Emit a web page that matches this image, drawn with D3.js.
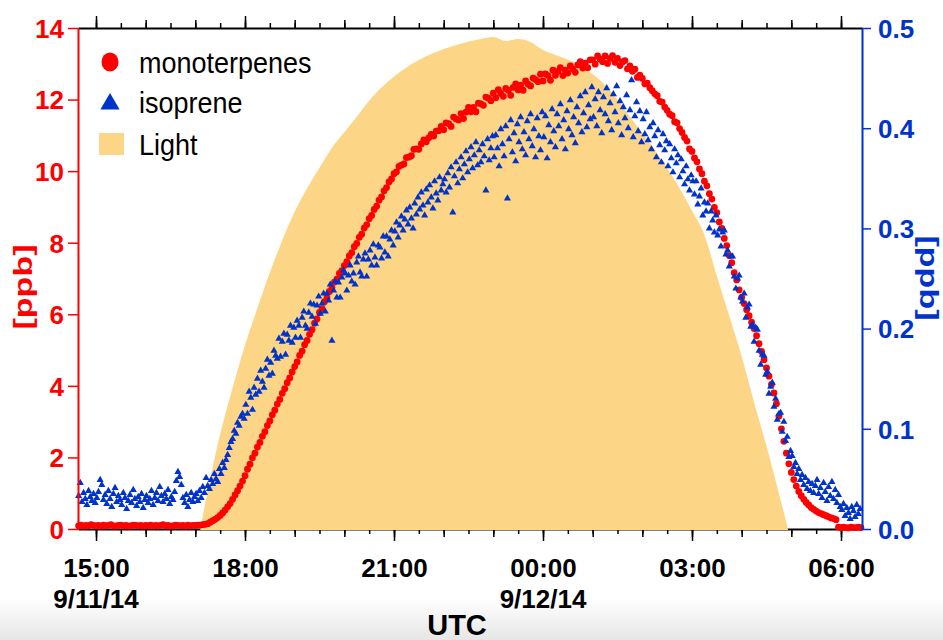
<!DOCTYPE html>
<html>
<head>
<meta charset="utf-8">
<script src="https://cdn.jsdelivr.net/npm/d3@7"></script>
<style>
  html, body { margin: 0; padding: 0; background: #ffffff; }
  svg { display: block; }
</style>
</head>
<body>
<svg id="chart" width="943" height="640"></svg>
<script>
// ---- Monoterpenes: 3-minute samples from 2014-09-11 14:39 UTC, [ppb], left axis ----
const monoStart = "2014-09-11T14:39";
const monoStepMinutes = 3;
const monoterpenes = [
  0.09,0.11,0.08,0.10,0.09,0.12,0.10,
  0.09,0.10,0.08,0.11,0.09,0.10,0.12,0.09,0.08,0.10,0.11,0.09,0.10,0.08,0.09,0.11,0.10,0.09,0.10,0.08,
  0.10,0.09,0.11,0.08,0.10,0.09,0.10,0.12,0.09,0.10,0.08,0.09,0.11,0.10,0.09,0.10,0.08,0.11,0.09,0.10,
  0.10,0.11,0.11,0.12,0.13,0.15,0.19,0.23,0.27,0.32,0.38,0.45,0.53,0.62,0.71,0.83,0.95,1.07,1.20,1.34,
  1.49,1.67,1.81,1.99,2.12,2.29,2.42,2.59,2.72,2.89,3.02,3.19,3.32,3.49,3.62,3.79,3.92,4.09,4.22,4.39,
  4.54,4.67,4.85,4.97,5.15,5.27,5.44,5.57,5.75,5.87,6.05,6.16,6.35,6.46,6.64,6.74,6.90,6.98,7.14,7.22,
  7.36,7.47,7.63,7.72,7.89,7.98,8.15,8.24,8.41,8.50,8.67,8.76,8.93,9.02,9.19,9.28,9.45,9.54,9.70,9.78,
  9.93,9.98,10.13,10.17,10.20,10.38,10.39,10.43,10.61,10.62,10.61,10.76,10.87,10.82,10.93,11.03,10.98,11.12,11.13,11.25,
  11.16,11.35,11.33,11.25,11.51,11.46,11.43,11.61,11.47,11.65,11.78,11.66,11.78,11.66,11.90,11.88,11.84,12.07,12.04,11.97,
  12.18,12.05,12.28,12.17,12.09,12.31,12.26,12.12,12.34,12.44,12.27,12.40,12.26,12.52,12.43,12.38,12.60,12.56,12.50,12.71,
  12.52,12.72,12.67,12.54,12.82,12.68,12.79,12.89,12.67,12.82,12.74,12.94,12.86,12.76,12.97,13.06,12.88,13.02,12.89,13.11,
  13.11,12.99,13.22,13.13,13.06,13.22,13.01,13.15,13.23,13.04,13.15,12.95,13.05,13.09,12.86,12.94,12.79,12.85,12.62,12.68,
  12.59,12.44,12.46,12.33,12.25,12.16,12.11,11.95,11.93,11.79,11.70,11.59,11.55,11.38,11.35,11.19,11.08,10.94,10.84,10.62,
  10.55,10.37,10.26,10.06,9.93,9.72,9.59,9.37,9.22,8.99,8.84,8.58,8.40,8.12,7.92,7.64,7.44,7.16,6.96,6.68,
  6.47,6.30,6.13,5.96,5.78,5.60,5.40,5.18,4.96,4.73,4.50,4.27,4.04,3.80,3.50,3.15,2.80,2.45,2.12,1.82,
  1.58,1.38,1.20,1.05,0.93,0.83,0.74,0.67,0.60,0.55,0.50,0.46,0.43,0.40,0.37,0.34,0.31,0.29,0.26,0.05,
  0.04,0.05,0.04,0.03,0.05,0.04,0.04,0.05,0.04
];

// ---- Isoprene: 2-minute samples from 2014-09-11 14:39 UTC, [ppb], right axis ----
const isoStart = "2014-09-11T14:39";
const isoStepMinutes = 2;
const isoprene = [
  0.033,0.046,0.027,0.036,0.030,0.024,0.038,0.032,0.028,0.035,0.026,
  // 15h
  0.031,0.037,0.049,0.044,0.029,0.034,0.025,0.038,0.030,0.022,0.035,0.041,0.027,0.033,0.029,
  0.024,0.036,0.031,0.020,0.028,0.034,0.026,0.039,0.030,0.023,0.032,0.027,0.035,0.021,0.029,
  // 16h
  0.033,0.026,0.030,0.038,0.024,0.031,0.036,0.028,0.042,0.033,0.027,0.035,0.030,0.039,0.025,
  0.032,0.029,0.037,0.048,0.057,0.052,0.044,0.031,0.026,0.034,0.022,0.029,0.036,0.027,0.032,
  // 17h
  0.035,0.028,0.038,0.031,0.042,0.036,0.051,0.043,0.040,0.049,0.045,0.055,0.050,0.047,0.060,
  0.055,0.066,0.061,0.069,0.074,0.081,0.087,0.090,0.098,0.095,0.106,0.103,0.112,0.115,0.110,
  // 18h
  0.124,0.115,0.137,0.131,0.119,0.141,0.134,0.150,0.137,0.158,0.147,0.141,0.160,0.169,0.153,
  0.166,0.155,0.178,0.173,0.170,0.190,0.172,0.187,0.195,0.174,0.194,0.188,0.203,0.186,0.201,
  // 19h
  0.191,0.208,0.203,0.191,0.211,0.217,0.203,0.200,0.216,0.225,0.212,0.224,0.205,0.223,0.232,
  0.215,0.225,0.235,0.217,0.235,0.228,0.244,0.188,0.238,0.247,0.231,0.246,0.231,0.251,0.258,
  // 20h
  0.255,0.238,0.253,0.263,0.247,0.255,0.244,0.266,0.272,0.256,0.252,0.269,0.275,0.252,0.269,
  0.278,0.263,0.284,0.271,0.263,0.283,0.281,0.270,0.292,0.276,0.292,0.272,0.289,0.298,0.283,
  // 21h
  0.297,0.306,0.291,0.303,0.312,0.298,0.309,0.318,0.304,0.321,0.310,0.300,0.325,0.314,0.331,
  0.319,0.336,0.323,0.313,0.339,0.326,0.343,0.331,0.320,0.347,0.335,0.328,0.351,0.338,0.344,
  // 22h
  0.349,0.336,0.355,0.341,0.361,0.316,0.352,0.366,0.345,0.359,0.371,0.350,0.364,0.377,0.356,
  0.369,0.381,0.360,0.373,0.386,0.363,0.378,0.366,0.384,0.372,0.338,0.389,0.368,0.380,0.392,
  // 23h
  0.371,0.393,0.380,0.362,0.399,0.384,0.372,0.402,0.330,0.389,0.408,0.376,0.395,0.367,0.404,
  0.386,0.411,0.379,0.396,0.373,0.407,0.389,0.414,0.382,0.399,0.371,0.410,0.392,0.378,0.416,
  // 00h
  0.391,0.412,0.370,0.403,0.386,0.419,0.397,0.381,0.414,0.402,0.424,0.389,0.408,0.379,0.417,
  0.399,0.428,0.393,0.411,0.385,0.421,0.405,0.432,0.396,0.415,0.436,0.401,0.423,0.409,0.441,
  // 01h
  0.411,0.429,0.402,0.436,0.418,0.395,0.431,0.414,0.440,0.407,0.425,0.398,0.434,0.416,0.442,
  0.405,0.427,0.393,0.421,0.410,0.433,0.400,0.418,0.448,0.391,0.412,0.426,0.397,0.417,0.386,
  // 02h
  0.409,0.394,0.416,0.388,0.401,0.379,0.405,0.392,0.371,0.398,0.383,0.366,0.394,0.378,0.387,
  0.362,0.384,0.370,0.356,0.379,0.365,0.373,0.351,0.369,0.357,0.344,0.362,0.349,0.338,0.353,
  // 03h
  0.347,0.334,0.347,0.324,0.332,0.340,0.313,0.326,0.317,0.325,0.300,0.317,0.308,0.296,0.313,
  0.293,0.299,0.282,0.296,0.298,0.274,0.278,0.262,0.272,0.272,0.252,0.240,0.250,0.253,0.231,
  // 04h
  0.227,0.235,0.211,0.221,0.224,0.202,0.204,0.187,0.201,0.199,0.178,0.164,0.174,0.173,0.154,
  0.157,0.135,0.142,0.146,0.122,0.130,0.109,0.115,0.116,0.097,0.107,0.088,0.092,0.072,0.078,
  // 05h
  0.073,0.062,0.066,0.055,0.060,0.049,0.054,0.044,0.051,0.040,0.047,0.038,0.045,0.036,0.043,
  0.049,0.035,0.041,0.031,0.046,0.037,0.028,0.042,0.033,0.047,0.030,0.039,0.026,0.034,0.022,
  // 06h
  0.019,0.025,0.013,0.021,0.016,0.010,0.022,0.018,0.012,0.024,0.015,0.020
];

// ---- Relative light intensity (0-1), drawn as the shaded background ----
const lightTimes = [
  "2014-09-11T17:06","2014-09-11T17:15","2014-09-11T17:30","2014-09-11T17:45",
  "2014-09-11T18:00","2014-09-11T18:15","2014-09-11T18:30","2014-09-11T18:45",
  "2014-09-11T19:00","2014-09-11T19:15","2014-09-11T19:30","2014-09-11T19:45",
  "2014-09-11T20:00","2014-09-11T20:15","2014-09-11T20:30","2014-09-11T20:45",
  "2014-09-11T21:00","2014-09-11T21:15","2014-09-11T21:30","2014-09-11T21:45",
  "2014-09-11T22:00","2014-09-11T22:15","2014-09-11T22:30","2014-09-11T22:45",
  "2014-09-11T23:00","2014-09-11T23:15","2014-09-11T23:30","2014-09-11T23:45",
  "2014-09-12T00:00","2014-09-12T00:15","2014-09-12T00:30","2014-09-12T00:45",
  "2014-09-12T01:00","2014-09-12T01:15","2014-09-12T01:30","2014-09-12T01:45",
  "2014-09-12T02:00","2014-09-12T02:15","2014-09-12T02:30","2014-09-12T02:45",
  "2014-09-12T03:00","2014-09-12T03:15","2014-09-12T03:30","2014-09-12T03:45",
  "2014-09-12T04:00","2014-09-12T04:15","2014-09-12T04:30","2014-09-12T04:45",
  "2014-09-12T04:56"
];
const lightValues = [
  0.000,0.077,0.189,0.282,
  0.367,0.441,0.512,0.576,
  0.633,0.680,0.721,0.761,
  0.792,0.823,0.855,0.881,
  0.903,0.921,0.936,0.948,
  0.958,0.966,0.973,0.978,
  0.982,0.974,0.978,0.972,
  0.956,0.946,0.937,0.925,
  0.908,0.886,0.857,0.823,
  0.790,0.757,0.720,0.680,
  0.635,0.587,0.505,0.425,
  0.345,0.253,0.165,0.071,
  0.000
];

// ---- Axis ticks and labels ----
const leftTicks = [0, 2, 4, 6, 8, 10, 12, 14];
const rightTicks = [0.0, 0.1, 0.2, 0.3, 0.4, 0.5];
const dateLabels = [
  { time: "2014-09-11T15:00", text: "9/11/14" },
  { time: "2014-09-12T00:00", text: "9/12/14" }
];
const legendLabels = ["monoterpenes", "isoprene", "Light"];
const axisTitle = "[ppb]";
const xTitle = "UTC";

// ---- Layout ----
const W = 943, H = 640;
const plot = { left: 78, right: 862, top: 28, bottom: 529 };
const RED = "#ff0000", BLUE = "#0033cc", LIGHT = "#fdd586";
const narrow = '"Liberation Sans Narrow","Arial Narrow",sans-serif';
const regular = '"Liberation Sans",Arial,sans-serif';

const parseTime = d3.utcParse("%Y-%m-%dT%H:%M");
const monoT0 = parseTime(monoStart);
const isoT0 = parseTime(isoStart);

const x = d3.scaleUtc()
  .domain([new Date(Date.UTC(2014, 8, 11, 14, 38, 15)), new Date(Date.UTC(2014, 8, 12, 6, 25, 22))])
  .range([plot.left, plot.right]);
const yLeft = d3.scaleLinear().domain([0, 14]).range([plot.bottom, plot.top]);
const yRight = d3.scaleLinear().domain([0, 0.5]).range([plot.bottom, plot.top]);
const yLight = d3.scaleLinear().domain([0, 1]).range([plot.bottom, plot.top]);

const svg = d3.select("#chart");

// soft grey band along the bottom edge
const defs = svg.append("defs");
const grad = defs.append("linearGradient").attr("id", "floor").attr("x1", 0).attr("y1", 0).attr("x2", 0).attr("y2", 1);
grad.append("stop").attr("offset", "0%").attr("stop-color", "#ffffff");
grad.append("stop").attr("offset", "100%").attr("stop-color", "#e6e6e6");
svg.append("rect").attr("x", 0).attr("y", 598).attr("width", W).attr("height", H - 598).attr("fill", "url(#floor)");

// ---- Time axes (bottom and top) ----
const [d0, d1] = x.domain();
const halfHours = d3.utcMinute.every(30).range(d0, d1);
const hours = d3.utcHour.every(1).range(d0, d1);
const majors = d3.utcHour.every(3).range(d0, d1);

function timeAxis(axisFn, yPos) {
  const g = svg.append("g").attr("transform", `translate(0,${yPos})`);
  g.append("g").call(axisFn(x).tickValues(halfHours).tickSize(5).tickFormat("").tickSizeOuter(0))
    .call(s => s.select(".domain").remove());
  g.append("g").call(axisFn(x).tickValues(hours).tickSize(8).tickFormat("").tickSizeOuter(0))
    .call(s => s.select(".domain").remove());
  const main = g.append("g").call(axisFn(x).tickValues(majors).tickSize(12).tickSizeOuter(0)
    .tickFormat(d3.utcFormat("%H:%M")));
  g.selectAll("line").attr("stroke", "#000").attr("stroke-width", 1.5);
  main.select(".domain").attr("stroke", "#000").attr("stroke-width", 2);
  return main;
}
const bottomAxis = timeAxis(d3.axisBottom, plot.bottom);
bottomAxis.selectAll("text")
  .attr("y", 48).attr("dy", null)
  .attr("font-family", narrow).attr("font-weight", "bold").attr("font-size", 26).attr("fill", "#000");
const topAxis = timeAxis(d3.axisTop, plot.top);
topAxis.selectAll("text").remove();

// date line under the time labels
svg.append("g").selectAll("text").data(dateLabels).join("text")
  .attr("x", d => x(parseTime(d.time)))
  .attr("y", 608)
  .attr("text-anchor", "middle")
  .attr("font-family", narrow).attr("font-weight", "bold").attr("font-size", 26)
  .text(d => d.text);

// ---- Light background ----
const lightData = lightTimes.map((t, i) => ({ t: parseTime(t), v: lightValues[i] }));
svg.append("path")
  .datum(lightData)
  .attr("fill", LIGHT)
  .attr("d", d3.area().curve(d3.curveMonotoneX)
    .x(d => x(d.t)).y0(yLight(0) + 1).y1(d => yLight(d.v)));

// ---- Monoterpenes (circles) ----
svg.append("g").selectAll("circle")
  .data(monoterpenes.map((v, i) => ({ t: d3.utcMinute.offset(monoT0, i * monoStepMinutes), v })))
  .join("circle")
  .attr("cx", d => x(d.t))
  .attr("cy", d => yLeft(d.v))
  .attr("r", 3.4)
  .attr("fill", RED);

// ---- Isoprene (triangles) ----
const tri = d3.symbol().type(d3.symbolTriangle).size(22);
svg.append("g").selectAll("path")
  .data(isoprene.map((v, i) => ({ t: d3.utcMinute.offset(isoT0, i * isoStepMinutes), v })))
  .join("path")
  .attr("transform", d => `translate(${x(d.t)},${yRight(d.v)})`)
  .attr("d", tri)
  .attr("fill", BLUE);

// ---- Left axis (monoterpenes) ----
const gl = svg.append("g").attr("transform", `translate(${plot.left},0)`)
  .call(d3.axisLeft(yLeft).tickValues(leftTicks).tickSize(10).tickPadding(4).tickSizeOuter(0));
gl.select(".domain").attr("stroke", RED).attr("stroke-width", 2);
gl.selectAll("line").attr("stroke", RED).attr("stroke-width", 1.5);
gl.selectAll("text").attr("fill", RED).attr("font-family", narrow).attr("font-weight", "bold")
  .attr("font-size", 26).attr("dy", "0.36em");

// ---- Right axis (isoprene) ----
const gr = svg.append("g").attr("transform", `translate(${plot.right},0)`)
  .call(d3.axisRight(yRight).tickValues(rightTicks).tickSize(9).tickPadding(7).tickSizeOuter(0)
    .tickFormat(d3.format(".1f")));
gr.select(".domain").attr("stroke", BLUE).attr("stroke-width", 2);
gr.selectAll("line").attr("stroke", BLUE).attr("stroke-width", 1.5);
gr.selectAll("text").attr("fill", BLUE).attr("font-family", narrow).attr("font-weight", "bold")
  .attr("font-size", 26).attr("dy", "0.36em");

// ---- Axis titles ----
svg.append("text")
  .attr("transform", "translate(32,287) rotate(-90) scale(1,0.78)")
  .attr("text-anchor", "middle")
  .attr("font-family", regular).attr("font-weight", "bold").attr("font-size", 34)
  .attr("fill", RED).text(axisTitle);
svg.append("text")
  .attr("transform", "translate(920,278) rotate(90) scale(1,0.74)")
  .attr("text-anchor", "middle")
  .attr("font-family", regular).attr("font-weight", "bold").attr("font-size", 34)
  .attr("fill", BLUE).text(axisTitle);
svg.append("text")
  .attr("x", 457).attr("y", 635)
  .attr("text-anchor", "middle")
  .attr("font-family", narrow).attr("font-weight", "bold").attr("font-size", 29)
  .attr("fill", "#000").text(xTitle);

// ---- Legend ----
const legend = svg.append("g");
legend.append("ellipse").attr("cx", 110).attr("cy", 62).attr("rx", 8.5).attr("ry", 9.5).attr("fill", RED);
legend.append("path").attr("transform", "translate(110,104)")
  .attr("d", d3.symbol().type(d3.symbolTriangle).size(160)).attr("fill", BLUE);
legend.append("rect").attr("x", 99).attr("y", 133).attr("width", 25).attr("height", 22).attr("fill", LIGHT);
const legendBaselines = [73, 113, 155];
legend.selectAll("text").data(legendLabels).join("text")
  .attr("transform", (d, i) => `translate(139,${legendBaselines[i]}) scale(0.9,1)`)
  .attr("font-family", regular).attr("font-size", 30).attr("fill", "#000")
  .text(d => d);
</script>
</body>
</html>
